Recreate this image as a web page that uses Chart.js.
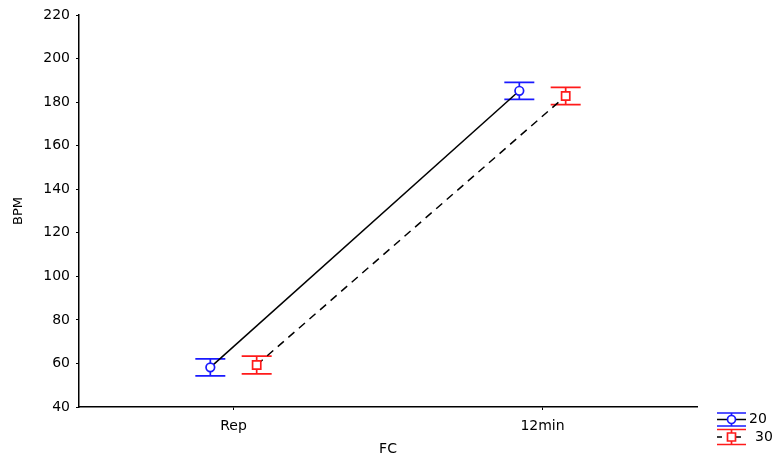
<!DOCTYPE html>
<html>
<head>
<meta charset="utf-8">
<script src="https://cdn.jsdelivr.net/npm/chart.js@4.4.0/dist/chart.umd.min.js"></script>
<style>
  html, body { margin: 0; padding: 0; background: #fff; }
  #wrap { width: 776px; height: 459px; }
</style>
</head>
<body>
<div id="wrap"><canvas id="fcChart" width="776" height="459"></canvas></div>
<script>
const categories = ['Rep', '12min'];
const seriesNames = ['20', '30'];
const means20 = [58.2, 185.2];
const lower20 = [54.3, 181.3];
const upper20 = [62.1, 189.1];
const means30 = [59.3, 182.8];
const lower30 = [55.2, 178.8];
const upper30 = [63.4, 186.8];
const yTicks = [40, 60, 80, 100, 120, 140, 160, 180, 200, 220];

const FONT = 'DejaVu Sans';
const BLUE = '#1a1aff';
const RED = '#ff1a1a';
const shift = 0.075;

function toPoints(means, off) {
    return means.map((m, i) => ({ x: i + off, y: m }));
}

const series = [
    { name: seriesNames[0], means: means20, lo: lower20, hi: upper20, off: -shift, color: BLUE, style: 'circle', radius: 4.3, dash: [] },
    { name: seriesNames[1], means: means30, lo: lower30, hi: upper30, off: shift, color: RED, style: 'rect', radius: 5.8, dash: [8, 6] }
];

// whiskers drawn under the lines and markers
const errorBars = {
    id: 'errorBars',
    beforeDatasetsDraw(chart) {
        const ctx = chart.ctx;
        const xs = chart.scales.x, ys = chart.scales.y;
        ctx.save();
        ctx.lineWidth = 1.7;
        series.forEach(s => {
            ctx.strokeStyle = s.color;
            s.means.forEach((m, i) => {
                const px = xs.getPixelForValue(i + s.off);
                const top = ys.getPixelForValue(s.hi[i]);
                const bot = ys.getPixelForValue(s.lo[i]);
                ctx.beginPath();
                ctx.moveTo(px, top); ctx.lineTo(px, bot);
                ctx.moveTo(px - 15, top); ctx.lineTo(px + 15, top);
                ctx.moveTo(px - 15, bot); ctx.lineTo(px + 15, bot);
                ctx.stroke();
            });
        });
        ctx.restore();
    }
};

// little legend in the bottom right corner
const cornerLegend = {
    id: 'cornerLegend',
    afterDraw(chart) {
        const ctx = chart.ctx;
        const x0 = 717, x1 = 746, cx = 731.5;
        const rows = [
            { y: 419.5, top: 413, bot: 426, textX: 749 },
            { y: 437, top: 429.5, bot: 444.5, textX: 755 }
        ];
        ctx.save();
        series.forEach((s, k) => {
            const r = rows[k];
            ctx.lineWidth = 1.7;
            ctx.strokeStyle = s.color;
            ctx.beginPath();
            ctx.moveTo(x0, r.top); ctx.lineTo(x1, r.top);
            ctx.moveTo(x0, r.bot); ctx.lineTo(x1, r.bot);
            ctx.moveTo(cx, r.top); ctx.lineTo(cx, r.bot);
            ctx.stroke();
            ctx.lineWidth = 1.5;
            ctx.strokeStyle = '#000';
            ctx.setLineDash(s.dash.length ? [5, 14] : []);
            ctx.beginPath();
            ctx.moveTo(x0, r.y); ctx.lineTo(x1, r.y);
            ctx.stroke();
            ctx.setLineDash([]);
            ctx.fillStyle = '#fff';
            ctx.strokeStyle = s.color;
            ctx.lineWidth = 1.7;
            ctx.beginPath();
            if (s.style === 'circle') {
                ctx.arc(cx, r.y, 4, 0, Math.PI * 2);
            } else {
                ctx.rect(cx - 4, r.y - 4, 8, 8);
            }
            ctx.fill();
            ctx.stroke();
            ctx.fillStyle = '#000';
            ctx.font = '14px "' + FONT + '"';
            ctx.textAlign = 'left';
            ctx.textBaseline = 'middle';
            ctx.fillText(s.name, r.textX, r.y);
        });
        ctx.restore();
    }
};

new Chart(document.getElementById('fcChart').getContext('2d'), {
    type: 'line',
    data: {
        datasets: series.map(s => ({
            label: s.name,
            data: toPoints(s.means, s.off),
            borderColor: '#000',
            borderWidth: 1.5,
            borderDash: s.dash,
            pointStyle: s.style,
            pointRadius: s.radius,
            pointBorderWidth: 1.7,
            pointBorderColor: s.color,
            pointBackgroundColor: '#fff',
            tension: 0
        }))
    },
    options: {
        responsive: false,
        animation: false,
        layout: { padding: { top: 15, right: 79, left: 0, bottom: 0 } },
        plugins: {
            legend: { display: false },
            tooltip: { enabled: false }
        },
        scales: {
            x: {
                type: 'linear',
                min: -0.5,
                max: 1.5,
                afterFit: s => { s.height = 52; },
                afterBuildTicks: s => { s.ticks = categories.map((c, i) => ({ value: i })); },
                grid: { drawOnChartArea: false, drawTicks: true, tickLength: 3, color: '#000' },
                border: { color: '#000', width: 1.5 },
                ticks: {
                    callback: v => categories[v],
                    color: '#000',
                    padding: 8,
                    maxRotation: 0,
                    font: { family: FONT, size: 14 }
                },
                title: {
                    display: true,
                    text: 'FC',
                    color: '#000',
                    padding: { top: 0, bottom: 1 },
                    font: { family: FONT, size: 14 }
                }
            },
            y: {
                min: 40,
                max: 220,
                afterFit: s => { s.width = 79; },
                afterBuildTicks: s => { s.ticks = yTicks.map(v => ({ value: v })); },
                grid: { drawOnChartArea: false, drawTicks: true, tickLength: 3, color: '#000' },
                border: { color: '#000', width: 1.5 },
                ticks: {
                    color: '#000',
                    padding: 6,
                    font: { family: FONT, size: 14 }
                },
                title: {
                    display: true,
                    text: 'BPM',
                    color: '#000',
                    padding: { top: 11, bottom: 0 },
                    font: { family: FONT, size: 13 }
                }
            }
        }
    },
    plugins: [errorBars, cornerLegend]
});
</script>
</body>
</html>
